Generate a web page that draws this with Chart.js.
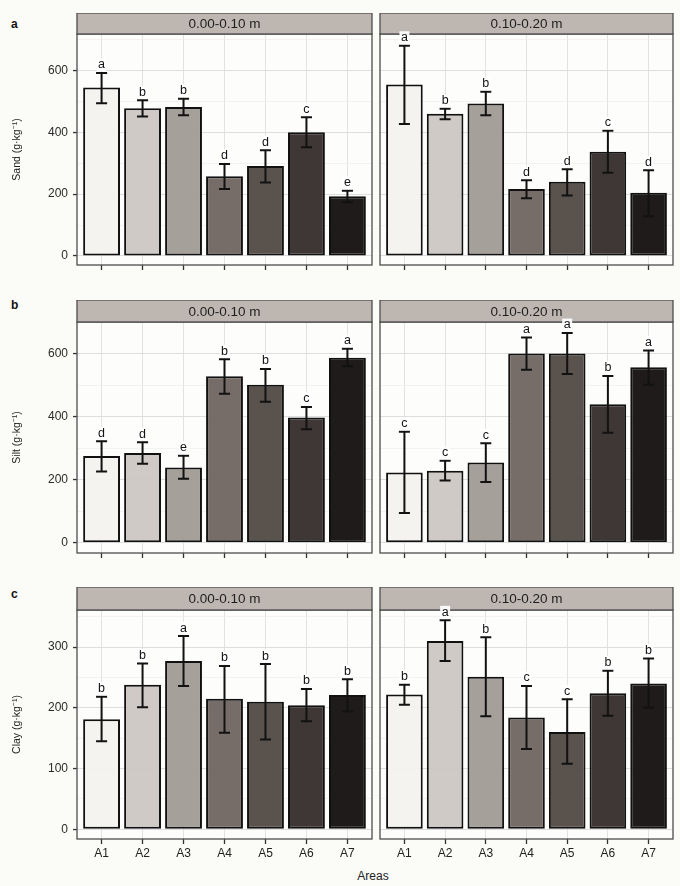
<!DOCTYPE html>
<html>
<head>
<meta charset="utf-8">
<script src="https://cdn.jsdelivr.net/npm/chart.js@4.4.1/dist/chart.umd.min.js"></script>
<style>
  body { margin: 0; background: #fbfbf8; font-family: "Liberation Sans", Arial, sans-serif; }
  #fig { position: relative; width: 680px; height: 886px; overflow: hidden; }
  .cell { position: absolute; }
  .tag { position: absolute; font-size: 12px; font-weight: bold; color: #111; }
  .xtitle { position: absolute; font-size: 12px; color: #222; width: 100px; text-align: center; }
</style>
</head>
<body>
<div id="fig">
  <div class="tag" style="left:11px;top:17px">a</div>
  <div class="tag" style="left:11px;top:298px">b</div>
  <div class="tag" style="left:11px;top:587px">c</div>
  <div class="xtitle" style="left:323px;top:869px">Areas</div>
</div>

<script>
// ---- data ----
const areas = ['A1', 'A2', 'A3', 'A4', 'A5', 'A6', 'A7'];
const depths = ['0.00-0.10 m', '0.10-0.20 m'];

// Sand
const sand0Mean = [545, 478, 482, 258, 291, 400, 193];
const sand0Low  = [494, 451, 455, 217, 238, 352, 174];
const sand0High = [592, 504, 509, 298, 342, 449, 211];
const sand0Letters = ['a', 'b', 'b', 'd', 'd', 'c', 'e'];
const sand1Mean = [555, 460, 493, 217, 240, 337, 205];
const sand1Low  = [427, 442, 455, 187, 196, 269, 129];
const sand1High = [680, 476, 531, 245, 281, 405, 277];
const sand1Letters = ['a', 'b', 'b', 'd', 'd', 'c', 'd'];

// Silt
const silt0Mean = [275, 285, 239, 528, 501, 397, 587];
const silt0Low  = [226, 251, 203, 473, 447, 360, 560];
const silt0High = [322, 319, 276, 582, 551, 431, 615];
const silt0Letters = ['d', 'd', 'e', 'b', 'b', 'c', 'a'];
const silt1Mean = [223, 229, 255, 600, 600, 439, 557];
const silt1Low  = [95, 198, 193, 549, 535, 349, 501];
const silt1High = [352, 260, 316, 651, 665, 529, 610];
const silt1Letters = ['c', 'c', 'c', 'a', 'a', 'b', 'a'];

// Clay
const clay0Mean = [181, 238, 277, 215, 210, 204, 221];
const clay0Low  = [145, 201, 236, 159, 148, 178, 194];
const clay0High = [218, 273, 318, 269, 272, 231, 247];
const clay0Letters = ['b', 'b', 'a', 'b', 'b', 'b', 'b'];
const clay1Mean = [222, 310, 251, 184, 160, 224, 240];
const clay1Low  = [205, 277, 186, 132, 108, 187, 200];
const clay1High = [238, 344, 316, 236, 214, 261, 281];
const clay1Letters = ['b', 'a', 'b', 'c', 'c', 'b', 'b'];

// axis ticks / limits
const sandTicks = [0, 200, 400, 600];
const siltTicks = [0, 200, 400, 600];
const clayTicks = [0, 100, 200, 300];
const sandRange = [-29, 718];
const siltRange = [-32, 700];
const clayRange = [-16, 361];

// ---- styling ----
const barFills = [
    'rgba(243, 242, 239, 0.94)',
    'rgba(204, 199, 194, 0.94)',
    'rgba(161, 155, 150, 0.95)',
    'rgba(112, 103, 98, 0.96)',
    'rgba(82, 75, 70, 0.96)',
    'rgba(56, 49, 46, 0.97)',
    'rgba(26, 22, 21, 0.98)'
];

const rows = [
    { title: 'Sand (g·kg⁻¹)', ticks: sandTicks, range: sandRange, top: 13, stripH: 21, panelH: 231, xH: 8, labels: false,
      panels: [
          { mean: sand0Mean, low: sand0Low, high: sand0High, letters: sand0Letters },
          { mean: sand1Mean, low: sand1Low, high: sand1High, letters: sand1Letters }
      ] },
    { title: 'Silt (g·kg⁻¹)', ticks: siltTicks, range: siltRange, top: 300, stripH: 22, panelH: 231, xH: 8, labels: false,
      panels: [
          { mean: silt0Mean, low: silt0Low, high: silt0High, letters: silt0Letters },
          { mean: silt1Mean, low: silt1Low, high: silt1High, letters: silt1Letters }
      ] },
    { title: 'Clay (g·kg⁻¹)', ticks: clayTicks, range: clayRange, top: 587, stripH: 23, panelH: 229, xH: 28, labels: true,
      panels: [
          { mean: clay0Mean, low: clay0Low, high: clay0High, letters: clay0Letters },
          { mean: clay1Mean, low: clay1Low, high: clay1High, letters: clay1Letters }
      ] }
];

const FONT = '"Liberation Sans", Arial, sans-serif';

// panel background, error bars, border, strip, letters
const panelDeco = {
    id: 'panelDeco',
    beforeDraw(chart) {
        const { ctx, chartArea: a } = chart;
        ctx.save();
        ctx.fillStyle = '#fdfdfc';
        ctx.fillRect(a.left, a.top, a.right - a.left, a.bottom - a.top);
        ctx.restore();
    },
    afterDraw(chart, args, opts) {
        const { ctx, chartArea: a, scales: { x, y } } = chart;
        const w = a.right - a.left;
        const unit = x.getPixelForValue(2) - x.getPixelForValue(1);
        const cap = unit * 0.135;
        ctx.save();

        // error bars
        ctx.strokeStyle = '#121212';
        ctx.lineWidth = 2;
        opts.low.forEach((lo, i) => {
            const px = x.getPixelForValue(i + 1);
            const y0 = y.getPixelForValue(lo);
            const y1 = y.getPixelForValue(opts.high[i]);
            ctx.beginPath();
            ctx.moveTo(px, y0); ctx.lineTo(px, y1);
            ctx.moveTo(px - cap, y0); ctx.lineTo(px + cap, y0);
            ctx.moveTo(px - cap, y1); ctx.lineTo(px + cap, y1);
            ctx.stroke();
        });

        // panel border
        ctx.strokeStyle = '#4d4d4d';
        ctx.lineWidth = 1.3;
        ctx.strokeRect(a.left, a.top, w, a.bottom - a.top);

        // strip
        ctx.fillStyle = '#bdb6b1';
        ctx.fillRect(a.left, a.top - opts.stripH, w, opts.stripH);
        ctx.strokeRect(a.left, a.top - opts.stripH, w, opts.stripH);
        ctx.fillStyle = '#1e1e1e';
        ctx.font = '13.5px ' + FONT;
        ctx.textAlign = 'center';
        ctx.textBaseline = 'middle';
        ctx.fillText(opts.strip, a.left + w / 2, a.top - opts.stripH / 2 + 1);

        // significance letters
        ctx.font = '12.5px ' + FONT;
        opts.letters.forEach((t, i) => {
            const px = x.getPixelForValue(i + 1);
            const ly = y.getPixelForValue(opts.high[i]) - 8;
            ctx.fillStyle = 'rgba(255, 255, 255, 0.92)';
            ctx.fillRect(px - 5, ly - 6.5, 10, 13);
            ctx.fillStyle = '#111';
            ctx.fillText(t, px, ly);
        });
        ctx.restore();
    }
};

function makePanel(row, p, col) {
    const isLeft = col === 0;
    const left = isLeft ? 0 : 372;
    const width = isLeft ? 373 : 308;
    const height = row.stripH + row.panelH + row.xH;

    const cell = document.createElement('div');
    cell.className = 'cell';
    cell.style.left = left + 'px';
    cell.style.top = row.top + 'px';
    const canvas = document.createElement('canvas');
    canvas.width = width;
    canvas.height = height;
    cell.appendChild(canvas);
    document.getElementById('fig').appendChild(cell);

    const major = row.ticks;
    const step = (major[1] - major[0]) / 2;

    new Chart(canvas, {
        type: 'bar',
        data: {
            datasets: [{
                data: p.mean.map((v, i) => ({ x: i + 1, y: v })),
                backgroundColor: barFills,
                borderColor: '#111',
                borderWidth: 2,
                borderSkipped: false,
                categoryPercentage: 0.9,
                barPercentage: 1
            }]
        },
        options: {
            responsive: false,
            animation: false,
            devicePixelRatio: 1,
            layout: { padding: { top: row.stripH, right: isLeft ? 1 : 7, left: 0, bottom: 0 } },
            plugins: {
                legend: { display: false },
                tooltip: { enabled: false },
                panelDeco: { low: p.low, high: p.high, letters: p.letters, strip: depths[col], stripH: row.stripH }
            },
            scales: {
                x: {
                    type: 'linear',
                    min: 0.4,
                    max: 7.6,
                    offset: false,
                    afterBuildTicks: s => { s.ticks = areas.map((_, i) => ({ value: i + 1 })); },
                    afterFit: s => {
                        s.height = row.xH;
                        s.paddingLeft = 0;
                        s.paddingRight = 0;
                    },
                    grid: {
                        offset: false,
                        color: '#e2e2e0',
                        lineWidth: 1,
                        tickLength: 5,
                        tickColor: '#333',
                        tickWidth: 1.3
                    },
                    border: { display: false },
                    ticks: {
                        display: row.labels,
                        padding: 2,
                        color: '#222',
                        font: { family: FONT, size: 12 },
                        callback: (v, i) => areas[i]
                    }
                },
                y: {
                    min: row.range[0],
                    max: row.range[1],
                    afterBuildTicks: s => {
                        const vals = [];
                        for (let v = major[0]; v <= s.max; v += step) vals.push({ value: v });
                        s.ticks = vals;
                    },
                    afterFit: s => {
                        s.width = isLeft ? 77 : 8;
                        s.paddingTop = 0;
                        s.paddingBottom = 0;
                    },
                    grid: {
                        color: c => major.includes(c.tick.value) ? '#dedede' : '#ededeb',
                        lineWidth: c => major.includes(c.tick.value) ? 1.1 : 0.7,
                        drawTicks: isLeft,
                        tickLength: 4,
                        tickColor: c => major.includes(c.tick.value) ? '#333' : 'rgba(0,0,0,0)',
                        tickWidth: 1.3
                    },
                    border: { display: false },
                    ticks: {
                        display: isLeft,
                        padding: 5,
                        color: '#2a2a2a',
                        font: { family: FONT, size: 12 },
                        callback: v => major.includes(v) ? String(v) : ''
                    },
                    title: {
                        display: isLeft,
                        text: row.title,
                        color: '#222',
                        font: { family: FONT, size: 10.5 },
                        padding: { top: 11 }
                    }
                }
            }
        },
        plugins: [panelDeco]
    });
}

rows.forEach(row => {
    row.panels.forEach((p, col) => makePanel(row, p, col));
});
</script>
</body>
</html>
